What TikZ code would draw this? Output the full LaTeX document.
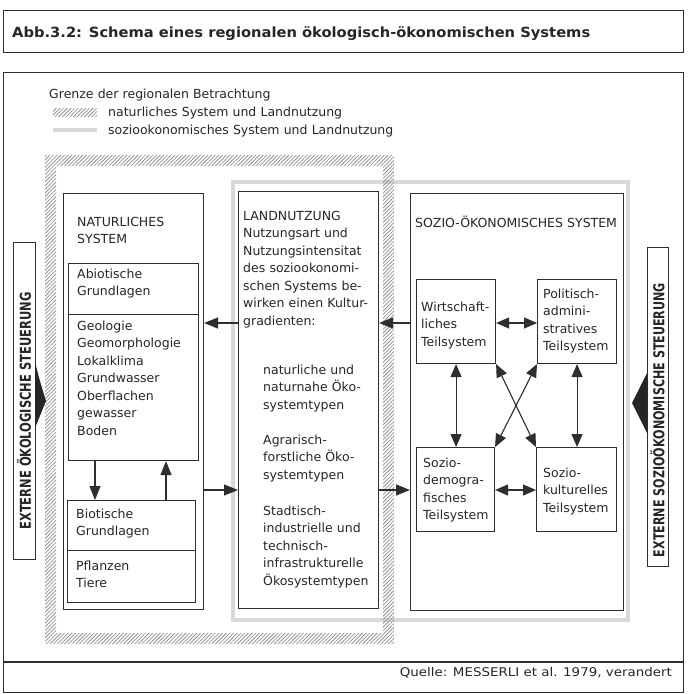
\documentclass[tikz,border=0pt]{standalone}
\usepackage{fontspec}
\setmainfont{DejaVu Sans}
\usetikzlibrary{arrows.meta,patterns.meta}
\begin{document}
\begin{tikzpicture}[x=1pt,y=-1pt,
  ink/.style={draw=black!82, line width=1.1pt},
  bx/.style={ink, rectangle, inner sep=0pt, anchor=north west},
  txt/.style={font=\fontsize{12.5}{17.5}\selectfont, text=black!85, anchor=base west, inner sep=0pt, align=left, text width=#1},
  txt/.default=130pt,
  arr/.style={ink, -{Triangle[length=14pt,width=11pt]}},
  darr/.style={ink, {Triangle[length=13pt,width=11pt]}-{Triangle[length=13pt,width=11pt]}},
  hatchfill/.style={pattern={Lines[angle=45,distance=2.6pt,line width=0.8pt]}, pattern color=black!42},
  grayline/.style={draw=black!15, line width=4.5pt},
  sidetxt/.style={rotate=90, inner sep=0pt, text=black!85}
]
\useasboundingbox (0,0) rectangle (688,694);
\fill[white] (0,0) rectangle (688,694);

% frames
\node[bx, minimum width=680pt, minimum height=42pt] (tbox) at (3,10) {};
\node[anchor=base west, inner sep=0pt, text=black!85, font=\fontsize{14}{16}\selectfont\bfseries] (title) at (12,37) {\resizebox{578pt}{\height}{Abb.3.2: Schema eines regionalen ökologisch-ökonomischen Systems}};
\node[bx, minimum width=680pt, minimum height=620pt] (main) at (3,72) {};
\coordinate (sep) at (0,662);
\draw[ink] (main.west |- sep) -- (main.east |- sep);
\node[anchor=base east, inner sep=0pt, text=black!85, font=\fontsize{12}{14}\selectfont] (quelle) at (672,676) {\resizebox{272pt}{\height}{Quelle: MESSERLI et al. 1979, verandert}};

% legend
\node[txt=320pt] (lg1) at (49,98) {Grenze der regionalen Betrachtung};
\fill[hatchfill] (53,108) rectangle (97,116);
\node[txt=320pt] (lg2) at (108,116) {naturliches System und Landnutzung};
\draw[grayline] (53,130) -- (97,130);
\node[txt=320pt] (lg3) at (108,134) {soziookonomisches System und Landnutzung};

% boundaries
\draw[grayline] (233,182) rectangle (628,620);
\fill[hatchfill, even odd rule] (45,155) rectangle (394,644) (56,166) rectangle (383,633);

% natural system
\node[bx, minimum width=140pt, minimum height=416pt] (NAT) at (63,193) {};
\node[txt] (natT) at (77,226) {NATURLICHES\\SYSTEM};
\node[bx, minimum width=130pt, minimum height=51pt] (AbioH) at (68,263) {};
\node[bx, minimum width=130pt, minimum height=146pt] (AbioL) at (68,314) {};
\node[txt] (abT) at (77,278) {Abiotische\\Grundlagen};
\node[txt] (geoT) at (77,330) {Geologie\\Geomorphologie\\Lokalklima\\Grundwasser\\Oberflachen\\gewasser\\Boden};
\node[bx, minimum width=128pt, minimum height=50pt] (BioH) at (67,500) {};
\node[bx, minimum width=128pt, minimum height=52pt] (BioL) at (67,550) {};
\node[txt] (bioT) at (76,518) {Biotische\\Grundlagen};
\node[txt] (pflT) at (76,570) {Pflanzen\\Tiere};

% land use
\node[bx, minimum width=140pt, minimum height=417pt] (LAND) at (238,191) {};
\node[txt=140pt] (l1) at (243,220) {LANDNUTZUNG\\Nutzungsart und\\Nutzungsintensitat\\des soziookonomi-\\schen Systems be-\\wirken einen Kultur-\\gradienten:};
\node[txt=120pt] (l2) at (263,374) {naturliche und\\naturnahe Öko-\\systemtypen};
\node[txt=120pt] (l3) at (263,444) {Agrarisch-\\forstliche Öko-\\systemtypen};
\node[txt=120pt] (l4) at (263,515) {Stadtisch-\\industrielle und\\technisch-\\infrastrukturelle\\Ökosystemtypen};

% socio-economic system
\node[bx, minimum width=213pt, minimum height=417pt] (SOZ) at (410,193) {};
\node[txt=210pt] (sozT) at (415,227) {SOZIO-ÖKONOMISCHES SYSTEM};
\node[bx, minimum width=79pt, minimum height=84pt] (Wirt) at (416,279) {};
\node[bx, minimum width=79pt, minimum height=84pt] (Pol) at (537,279) {};
\node[bx, minimum width=78pt, minimum height=84pt] (Demo) at (416,447) {};
\node[bx, minimum width=80pt, minimum height=84pt] (Kult) at (536,447) {};
\node[txt=80pt] (wT) at (421,311) {Wirtschaft-\\liches\\Teilsystem};
\node[txt=80pt] (pT) at (543,298) {Politisch-\\admini-\\stratives\\Teilsystem};
\node[txt=80pt] (dT) at (423,467) {Sozio-\\demogra-\\fisches\\Teilsystem};
\node[txt=80pt] (kT) at (543,477) {Sozio-\\kulturelles\\Teilsystem};

% external control
\node[bx, minimum width=22pt, minimum height=317pt] (LL) at (13,242) {};
\node[sidetxt, font=\fontsize{15}{15}\selectfont\bfseries] (LLt) at (24,411) {\resizebox{237pt}{\height}{EXTERNE ÖKOLOGISCHE STEUERUNG}};
\fill[black!85] (35,362) .. controls (39,378) .. (46,401) -- (35,428) -- cycle;
\node[bx, minimum width=21pt, minimum height=319pt] (RL) at (647,247) {};
\node[sidetxt, font=\fontsize{15}{15}\selectfont\bfseries] (RLt) at (657.5,420) {\resizebox{274pt}{\height}{EXTERNE SOZIOÖKONOMISCHE STEUERUNG}};
\fill[black!85] (647,373) .. controls (640,388) .. (632,403) -- (647,433) -- cycle;

% connectors
\coordinate (ya) at (0,323);
\coordinate (yb) at (0,490);
\coordinate (xd) at (95,0);
\coordinate (xu) at (166,0);
\draw[arr] (AbioL.south -| xd) -- (BioH.north -| xd);
\draw[arr] (BioH.north -| xu) -- (AbioL.south -| xu);
\draw[arr] (LAND.west |- ya) -- (NAT.east |- ya);
\draw[arr] (NAT.east |- yb) -- (LAND.west |- yb);
\draw[arr] (SOZ.west |- ya) -- (LAND.east |- ya);
\draw[arr] (LAND.east |- yb) -- (SOZ.west |- yb);
\draw[darr] (Wirt.east |- ya) -- (Pol.west |- ya);
\draw[darr] (Demo.east |- yb) -- (Kult.west |- yb);
\draw[darr] (Wirt.south) -- (Demo.north -| Wirt.south);
\draw[darr] (Pol.south) -- (Kult.north -| Pol.south);
\draw[darr] (Wirt.south east) -- (Kult.north west);
\draw[darr] (Pol.south west) -- (Demo.north east);
\end{tikzpicture}
\end{document}
